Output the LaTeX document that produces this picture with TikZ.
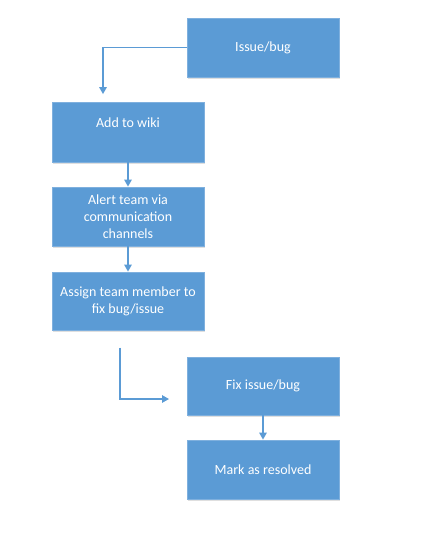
\documentclass[tikz,border=0pt]{standalone}
\usepackage{fontspec}
\setmainfont{Carlito}
\usetikzlibrary{arrows.meta,shadows}
\definecolor{boxblue}{HTML}{5B9BD5}
\definecolor{boxedge}{HTML}{7FB0DE}
\definecolor{linkblue}{HTML}{5B9BD5}
\begin{document}
\begin{tikzpicture}[x=1pt,y=-1pt,
  flowbox/.style={rectangle, fill=boxblue, draw=boxedge, line width=0.8pt,
    minimum width=152pt, minimum height=59pt, inner sep=0pt,
    text=white, align=center, font=\fontsize{14}{17}\selectfont,
    drop shadow={shadow xshift=1pt, shadow yshift=-1.5pt, opacity=0.25, fill=gray}},
  link/.style={draw=linkblue, line width=1.4pt, -{Triangle[length=7pt,width=7.5pt]}}]
\useasboundingbox (0,0) rectangle (447,535);
\node[flowbox] (issue) at (263,47.5) {Issue/bug};
\node[flowbox, minimum height=60pt, text height=25pt, text depth=35pt] (wiki) at (128,132) {Add to wiki};
\node[flowbox] (alert) at (128,216.5) {Alert team via\\communication\\channels};
\node[flowbox, minimum height=58pt] (assign) at (128,301) {Assign team member to\\fix bug/issue};
\node[flowbox, minimum height=58pt] (fix) at (263,386) {Fix issue/bug};
\node[flowbox] (mark) at (263,469.5) {Mark as resolved};
\coordinate (ftop) at (120,347.5);
\coordinate (ftip) at (169,399);
\draw[link, shorten >=7.5pt] (issue.west) -| (wiki.north -| 103,0);
\draw[link] (wiki.south) -- (alert.north);
\draw[link] (alert.south) -- (assign.north);
\draw[link] (ftop) |- (ftip);
\draw[link] (fix.south) -- (mark.north);
\end{tikzpicture}
\end{document}
